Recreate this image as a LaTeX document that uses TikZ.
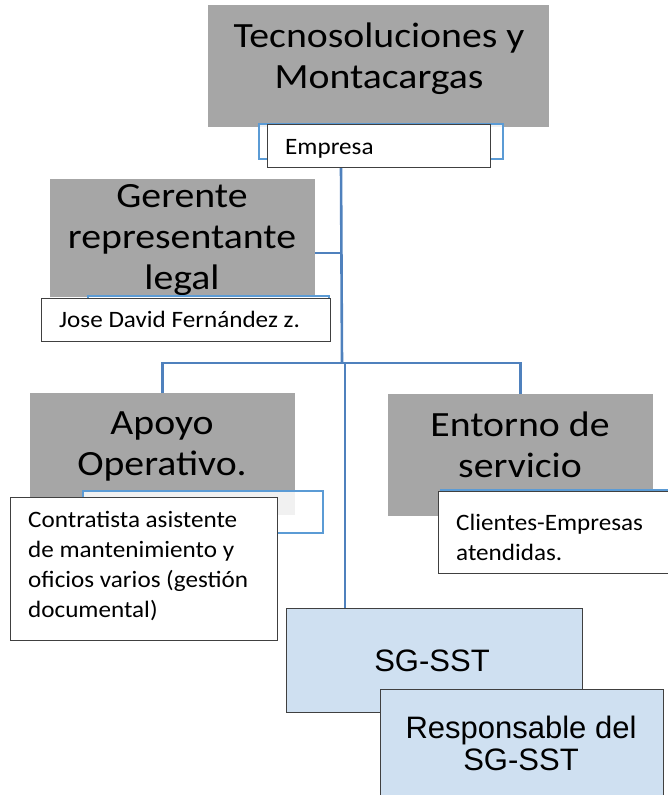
\documentclass[tikz,border=0pt]{standalone}
\usepackage{fontspec}
\newfontfamily\cabfont[FakeStretch=1.12]{Carlito}
\newfontfamily\txtfont[FakeStretch=1.07]{Carlito}
\newfontfamily\arfont{Liberation Sans}
\definecolor{grisbox}{HTML}{A6A6A6}
\definecolor{azulsst}{HTML}{CFE0F1}
\definecolor{azullin}{HTML}{4F81BD}
\definecolor{azulmarco}{HTML}{5B9BD5}
\definecolor{borde}{HTML}{404040}
\begin{document}
\begin{tikzpicture}[x=1pt, y=-1pt,
    caja/.style={fill=grisbox, inner sep=0, anchor=north west},
    marco/.style={draw=azulmarco, line width=1.8pt, fill=white, fill opacity=0.85, inner sep=0, anchor=north west},
    blanca/.style={draw=borde, line width=1.2pt, fill=white, inner sep=0, anchor=north west},
    sst/.style={draw=borde, line width=1pt, fill=azulsst, inner sep=0, anchor=north west},
    titulo/.style={font={\cabfont\fontsize{35.5}{41}\selectfont}, align=center, anchor=base, inner sep=0},
    texto/.style={font={\txtfont\fontsize{23.5}{30}\selectfont}, align=left, anchor=base west, inner sep=0},
    textosst/.style={font={\arfont\fontsize{31}{32}\selectfont}, align=center, anchor=base, inner sep=0},
    linea/.style={draw=azullin, line width=2.6pt}]
    \useasboundingbox (0,0) rectangle (668,795);

    % Cajas grises
    \node[caja, minimum width=341pt, minimum height=122pt] (tecno) at (208,5) {};
    \node[caja, minimum width=265pt, minimum height=118pt] (gerente) at (50,179) {};
    \node[caja, minimum width=265pt, minimum height=122pt] (apoyo) at (30,393) {};
    \node[caja, minimum width=265pt, minimum height=122pt] (entorno) at (388,394) {};

    % Conectores
    \coordinate (hub) at (342,363);
    \coordinate (hubsst) at (345,363);
    \coordinate (gerj) at (342,253);
    \draw[linea] (341,167) -- (hub);
    \draw[linea] (gerente.east |- gerj) -- (gerj);
    \draw[linea] (apoyo.north) -- (apoyo.north |- hub) -- (entorno.north |- hub) -- (entorno.north);
    \draw[linea] (hubsst) -- (345,608);

    % Textos de las cajas grises (base = ultima linea)
    \node[titulo] (tecnotxt) at (379,88) {Tecnosoluciones y\\Montacargas};
    \node[titulo] (gerentetxt) at (182,289) {Gerente\\representante\\legal};
    \node[titulo] (apoyotxt) at (162,475) {Apoyo\\Operativo.};
    \node[titulo] (entornotxt) at (520,477) {Entorno de\\servicio};

    % Marcos azules
    \node[marco, minimum width=244pt, minimum height=35pt] (marcoemp) at (258,123) {};
    \node[marco, minimum width=241pt, minimum height=40pt] (marcoger) at (87,295) {};
    \node[marco, minimum width=240pt, minimum height=42pt] (marcoapo) at (82,490) {};
    \node[marco, minimum width=250pt, minimum height=50pt] (marcoent) at (440,489) {};

    % Cajas blancas
    \node[blanca, minimum width=223pt, minimum height=43pt] (empresa) at (267,124) {};
    \node[blanca, minimum width=289pt, minimum height=43pt] (jose) at (41,298) {};
    \node[blanca, minimum width=267pt, minimum height=143pt] (contratista) at (10,497) {};
    \node[blanca, minimum width=250pt, minimum height=82pt] (clientes) at (438,491) {};

    \node[texto] (empresatxt) at (285,154) {Empresa};
    \node[texto] (josetxt) at (59,327) {Jose David Fernández z.};
    \node[texto] (contratistatxt) at (28,617) {Contratista asistente\\de mantenimiento y\\oficios varios (gestión\\documental)};
    \node[texto] (clientestxt) at (456,560) {Clientes-Empresas\\atendidas.};

    % SG-SST
    \node[sst, minimum width=296pt, minimum height=104pt] (sgsst) at (286,608) {};
    \node[sst, minimum width=283pt, minimum height=120pt] (responsable) at (380,689) {};
    \node[textosst] (sgssttxt) at (432,671) {SG-SST};
    \node[textosst] (responsabletxt) at (521,770) {Responsable del\\SG-SST};
\end{tikzpicture}
\end{document}
